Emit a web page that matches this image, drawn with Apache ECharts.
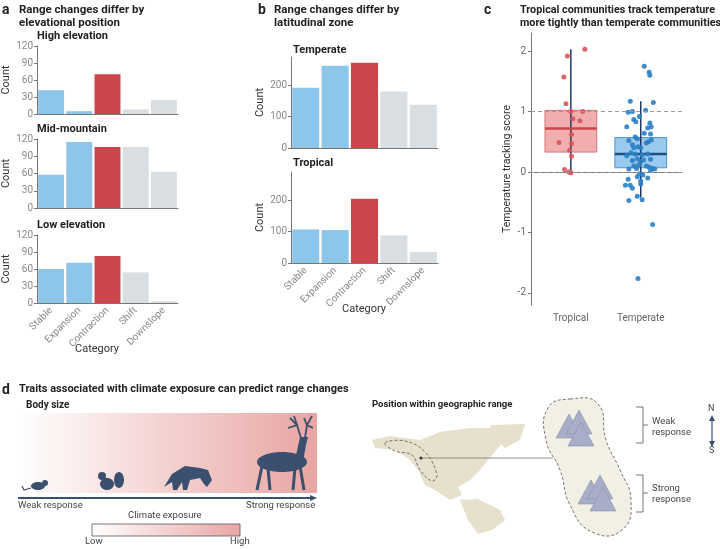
<!DOCTYPE html>
<html>
<head>
<meta charset="utf-8">
<script src="https://cdn.jsdelivr.net/npm/echarts@6/dist/echarts.min.js"></script>
<style>html,body{margin:0;padding:0;background:#fff}#chart{width:720px;height:549px}</style>
</head>
<body>
<div id="chart"></div>
<script>
// 数据
var categories = ['Stable', 'Expansion', 'Contraction', 'Shift', 'Downslope'];
var highElev = [42, 5, 70, 8, 25];
var midMountain = [58, 115, 106, 106, 63];
var lowElev = [60, 71, 83, 54, 3];
var temperateBars = [192, 262, 272, 180, 138];
var tropicalBars = [107, 105, 205, 88, 35];
var zones = ['Tropical', 'Temperate'];
// [min, q1, median, q3, max]
var tropicalBox = [0, 0.33, 0.72, 1.02, 2.03];
var temperateBox = [-0.42, 0.07, 0.30, 0.57, 1.17];
// [x jitter, score]
var tropicalPts = [[0.2,2.03],[-0.05,1.92],[-0.1,1.57],[-0.07,1.13],[0,1.0],[0.17,1.0],[0.03,0.88],[0.13,0.85],
  [0.01,0.62],[-0.17,0.49],[0.01,0.47],[-0.02,0.36],[0.01,0.26],[-0.09,0.04],[-0.03,0.0],[0,-0.01]];
var temperatePts = [[0.05,1.75],[0.12,1.65],[0.13,1.6],[-0.15,1.17],[0.18,1.15],[0.07,1.02],[-0.12,1.0],[-0.18,0.99],
  [-0.1,0.87],[-0.07,0.83],[-0.02,0.92],[0.13,0.81],[-0.2,0.75],[0.15,0.75],[0.1,0.73],[0.14,0.63],[0.05,0.64],
  [-0.17,0.52],[-0.05,0.55],[-0.08,0.58],[0.08,0.48],[0.11,0.5],[0.15,0.53],[-0.12,0.45],[-0.1,0.4],[-0.04,0.42],
  [0.0,0.4],[-0.14,0.32],[-0.08,0.3],[0.02,0.28],[0.1,0.3],[-0.2,0.27],[-0.05,0.22],[0.04,0.2],[0.14,0.21],
  [-0.12,0.19],[0.0,0.18],[-0.1,0.1],[-0.03,0.12],[0.08,0.1],[0.12,0.08],[0.17,0.06],[0.2,0.05],[-0.17,0.05],
  [-0.06,0.06],[0.14,0.02],[-0.02,-0.03],[0.03,-0.05],[-0.05,-0.08],[0.1,-0.1],[-0.18,-0.12],[0.0,-0.15],
  [-0.22,-0.22],[-0.15,-0.22],[0.0,-0.2],[-0.12,-0.27],[-0.05,-0.4],[-0.17,-0.47],[0.02,-0.46],[0.17,-0.87],[-0.04,-1.76]];

var blue = '#8ec6ea', red = '#c9474b', gray = '#d9dee3';
var barColors = [blue, blue, red, gray, gray];
var axisCol = '#777', labCol = '#888';

function barGrid(idx, left, top, width, height, max, ticks, showX) {
  return {
    grid: { left: left, top: top, width: width, height: height },
    x: { type: 'category', gridIndex: idx, data: categories,
      axisLine: { lineStyle: { color: axisCol } }, axisTick: { show: false },
      axisLabel: { show: showX, rotate: 45, color: labCol, fontSize: 10, margin: 6, fontFamily: 'Roboto' } },
    y: { type: 'value', gridIndex: idx, min: 0, max: max,
      name: 'Count', nameLocation: 'middle', nameGap: 22, nameRotate: 90,
      nameTextStyle: { color: '#333', fontSize: 11, fontFamily: 'Roboto' },
      axisLine: { show: true, lineStyle: { color: axisCol } },
      axisTick: { show: true, customValues: ticks, length: 3, lineStyle: { color: axisCol } },
      splitLine: { show: false }, axisLabel: { customValues: ticks, color: labCol, fontSize: 10, margin: 4, fontFamily: 'Roboto' } }
  };
}
var aTicks = [0, 30, 60, 90, 120], bTicks = [0, 100, 200];
var specs = [
  barGrid(0, 37, 46, 141, 68, 120, aTicks, false),
  barGrid(1, 37, 139, 141, 69, 120, aTicks, false),
  barGrid(2, 37, 235, 141, 68, 120, aTicks, true),
  barGrid(3, 291, 57, 147, 91, 290, bTicks, false),
  barGrid(4, 291, 172, 147, 91, 290, bTicks, true)
];
var barData = [highElev, midMountain, lowElev, temperateBars, tropicalBars];

var grids = specs.map(function (s) { return s.grid; });
var xAxes = specs.map(function (s) { return s.x; });
var yAxes = specs.map(function (s) { return s.y; });
var series = barData.map(function (d, i) {
  return { type: 'bar', xAxisIndex: i, yAxisIndex: i, barCategoryGap: '8%', silent: true,
    data: d.map(function (v, j) { return { value: v, itemStyle: { color: barColors[j] } }; }) };
});

// panel c
grids.push({ left: 531, top: 33, width: 151, height: 272 });
xAxes.push({ type: 'value', gridIndex: 5, min: 0.43, max: 2.59,
  axisLine: { lineStyle: { color: axisCol } }, splitLine: { show: false },
  axisTick: { customValues: [1, 2], length: 3, lineStyle: { color: axisCol } },
  axisLabel: { customValues: [1, 2], color: '#666', fontSize: 10, fontFamily: 'Roboto',
    formatter: function (v) { return zones[Math.round(v) - 1]; } } });
yAxes.push({ type: 'value', gridIndex: 5, min: -2.2, max: 2.3,
  name: 'Temperature tracking score', nameLocation: 'middle', nameGap: 18, nameRotate: 90,
  nameTextStyle: { color: '#333', fontSize: 10.5, fontFamily: 'Roboto' },
  axisLine: { show: true, lineStyle: { color: axisCol } }, splitLine: { show: false },
  axisTick: { customValues: [-2, -1, 0, 1, 2], length: 3, lineStyle: { color: axisCol } },
  axisLabel: { customValues: [-2, -1, 0, 1, 2], color: '#666', fontSize: 10, margin: 5, fontFamily: 'Roboto' } });
series.push({ type: 'line', xAxisIndex: 5, yAxisIndex: 5, silent: true, symbol: 'none', data: [],
  markLine: { symbol: 'none', silent: true, label: { show: false },
    lineStyle: { color: '#999', type: [4, 3], width: 1 }, data: [{ yAxis: 1 }, { yAxis: 0 }] } });
var boxes = [[1].concat(tropicalBox), [2].concat(temperateBox)];
var boxStyle = [{ fill: 'rgba(232,120,124,0.6)', stroke: '#d2777a', med: '#c9474b' },
                { fill: 'rgba(110,178,230,0.7)', stroke: '#4a95cf', med: '#1a4f88' }];
series.push({ type: 'custom', xAxisIndex: 5, yAxisIndex: 5, silent: true, data: boxes, z: 2,
  renderItem: function (params, api) {
    var i = params.dataIndex, s = boxStyle[i], x = api.value(0);
    var lo = api.coord([x, api.value(1)]), q1 = api.coord([x - 0.37, api.value(2)]),
        q3 = api.coord([x + 0.37, api.value(4)]), hi = api.coord([x, api.value(5)]);
    var mL = api.coord([x - 0.37, api.value(3)]), mR = api.coord([x + 0.37, api.value(3)]);
    return { type: 'group', children: [
      { type: 'rect', shape: { x: q1[0], y: q3[1], width: q3[0] - q1[0], height: q1[1] - q3[1] },
        style: { fill: s.fill, stroke: s.stroke, lineWidth: 1 } },
      { type: 'line', shape: { x1: lo[0], y1: lo[1], x2: hi[0], y2: hi[1] }, style: { stroke: '#1f3a6a', lineWidth: 1.5 } },
      { type: 'line', shape: { x1: mL[0], y1: mL[1], x2: mR[0], y2: mR[1] }, style: { stroke: s.med, lineWidth: 2.5 } }
    ] };
  } });
series.push({ type: 'scatter', xAxisIndex: 5, yAxisIndex: 5, silent: true, symbolSize: 5, z: 3,
  itemStyle: { color: '#d9555a', opacity: 0.9 }, data: tropicalPts.map(function (p) { return [1 + p[0], p[1]]; }) });
series.push({ type: 'scatter', xAxisIndex: 5, yAxisIndex: 5, silent: true, symbolSize: 5, z: 3,
  itemStyle: { color: '#2a7fc4', opacity: 0.9 }, data: temperatePts.map(function (p) { return [2 + p[0], p[1]]; }) });

// 文字与插图
var F = 'Roboto';
function txt(x, y, t, size, bold, color, lh) {
  var st = { text: t, font: (bold ? 'bold ' : '') + size + 'px ' + F, fill: color || '#222' };
  if (lh) st.lineHeight = lh;
  return { type: 'text', x: x, y: y, style: st };
}
var navy = '#3b4f6e', beige = '#e6e0cc', mtn = '#a8aec8';
function grad() {
  return new echarts.graphic.LinearGradient(0, 0, 1, 0, [{ offset: 0, color: '#fff' }, { offset: 1, color: '#e8a5a3' }]);
}
function poly(pts, fill, extra) {
  var st = { fill: fill };
  if (extra) for (var k in extra) st[k] = extra[k];
  return { type: 'polygon', shape: { points: pts }, style: st };
}
function pl(pts, w) { return { type: 'polyline', shape: { points: pts }, style: { stroke: navy, lineWidth: w, fill: null } }; }
function ln(x1, y1, x2, y2, c, w) { return { type: 'line', shape: { x1: x1, y1: y1, x2: x2, y2: y2 }, style: { stroke: c, lineWidth: w } }; }
function mount(x, y) { return poly([[x, y + 24], [x + 13, y], [x + 26, y + 24]], mtn, { stroke: '#8890b0', lineWidth: 0.6 }); }

var graphics = [
  txt(2, 3, 'a', 14, true), txt(19, 4, 'Range changes differ by\nelevational position', 11.5, true, '#222', 13),
  txt(37, 31, 'High elevation', 11, true), txt(37, 124, 'Mid-mountain', 11, true), txt(37, 220, 'Low elevation', 11, true),
  txt(75, 344, 'Category', 11, false, '#333'),
  txt(258, 3, 'b', 14, true), txt(274, 4, 'Range changes differ by\nlatitudinal zone', 11.5, true, '#222', 13),
  txt(293, 45, 'Temperate', 11, true), txt(293, 158, 'Tropical', 11, true),
  txt(342, 304, 'Category', 11, false, '#333'),
  txt(484, 3, 'c', 14, true), txt(520, 4, 'Tropical communities track temperature\nmore tightly than temperate communities', 10.8, true, '#222', 13),
  txt(2, 383, 'd', 14, true), txt(19, 384, 'Traits associated with climate exposure can predict range changes', 11, true),
  txt(26, 400, 'Body size', 10, true),
  { type: 'rect', shape: { x: 18, y: 413, width: 299, height: 80 }, style: { fill: grad() } },
  // mouse
  { type: 'ellipse', shape: { cx: 38, cy: 486, rx: 7, ry: 4 }, style: { fill: navy } },
  { type: 'circle', shape: { cx: 45, cy: 483, r: 3 }, style: { fill: navy } },
  pl([[31, 488], [24, 490], [22, 486]], 1.2),
  // squirrel
  { type: 'ellipse', shape: { cx: 107, cy: 484, rx: 7, ry: 6 }, style: { fill: navy } },
  { type: 'circle', shape: { cx: 102, cy: 476, r: 4 }, style: { fill: navy } },
  { type: 'ellipse', shape: { cx: 119, cy: 480, rx: 5, ry: 8 }, style: { fill: navy } },
  // fox
  poly([[164, 487], [172, 474], [185, 466], [200, 468], [208, 470], [212, 480], [207, 487], [204, 484], [200, 478], [190, 480], [187, 490], [183, 490], [182, 482], [177, 490], [173, 490], [172, 482]], navy),
  // deer
  { type: 'ellipse', shape: { cx: 282, cy: 462, rx: 25, ry: 10 }, style: { fill: navy } },
  poly([[295, 460], [300, 437], [308, 437], [306, 445], [303, 462]], navy),
  pl([[301, 438], [297, 425], [290, 418], [297, 425], [288, 428], [297, 425], [294, 416]], 1.8),
  pl([[305, 438], [307, 425], [312, 416], [307, 425], [313, 428], [307, 425], [304, 418]], 1.8),
  pl([[262, 466], [257, 490]], 3), pl([[268, 468], [270, 490]], 3),
  pl([[295, 468], [293, 490]], 3), pl([[300, 466], [304, 490]], 3),
  // arrow
  ln(18, 498, 312, 498, navy, 1.8), poly([[317, 498], [310, 495], [310, 501]], navy),
  txt(18, 501, 'Weak response', 9.5, false, '#444'), txt(246, 501, 'Strong response', 9.5, false, '#444'),
  txt(128, 511, 'Climate exposure', 9.5, false, '#444'),
  { type: 'rect', shape: { x: 92, y: 524, width: 148, height: 12 }, style: { fill: grad(), stroke: '#555', lineWidth: 0.8 } },
  txt(85, 537, 'Low', 9.5, false, '#444'), txt(230, 537, 'High', 9.5, false, '#444'),
  // map panel
  txt(372, 400, 'Position within geographic range', 9.5, true),
  poly([[372, 440], [390, 436], [420, 440], [440, 432], [470, 428], [498, 428], [505, 440], [492, 455], [480, 470], [470, 480], [458, 487], [462, 495], [450, 500], [438, 492], [425, 485], [418, 470], [410, 460], [395, 450], [375, 448]], beige),
  poly([[490, 425], [525, 424], [520, 440], [505, 448], [495, 438]], beige),
  poly([[460, 500], [478, 499], [500, 510], [505, 520], [492, 530], [478, 534], [468, 520]], beige),
  { type: 'polygon', shape: { smooth: 0.4, points: [[385, 443], [405, 441], [425, 452], [437, 475], [432, 481], [420, 470], [412, 455], [395, 451]] },
    style: { fill: null, stroke: '#555', lineWidth: 0.8, lineDash: [3, 2] } },
  { type: 'circle', shape: { cx: 421, cy: 458, r: 1.5 }, style: { fill: '#222' } },
  ln(421, 458, 553, 458, '#777', 0.8),
  { type: 'polygon', shape: { smooth: 0.5, points: [[570, 399], [598, 404], [606, 440], [620, 470], [631, 500], [622, 530], [592, 532], [570, 505], [560, 470], [546, 440], [548, 408]] },
    style: { fill: '#f2f0e4', stroke: '#555', lineWidth: 0.8, lineDash: [3, 2] } },
  mount(556, 414), mount(566, 410), mount(568, 422),
  mount(578, 480), mount(587, 475), mount(590, 487),
  { type: 'polyline', shape: { points: [[636, 407], [643, 407], [643, 443], [636, 443]] }, style: { stroke: '#555', lineWidth: 0.8, fill: null } },
  ln(643, 425, 648, 425, '#555', 0.8),
  txt(652, 416, 'Weak\nresponse', 9.5, false, '#444', 11),
  { type: 'polyline', shape: { points: [[636, 475], [643, 475], [643, 512], [636, 512]] }, style: { stroke: '#555', lineWidth: 0.8, fill: null } },
  ln(643, 493, 648, 493, '#555', 0.8),
  txt(652, 483, 'Strong\nresponse', 9.5, false, '#444', 11),
  txt(708, 404, 'N', 9, false, '#444'), txt(709, 446, 'S', 9, false, '#444'),
  ln(712, 418, 712, 444, navy, 1.2),
  poly([[712, 415], [709, 421], [715, 421]], navy),
  poly([[712, 447], [709, 441], [715, 441]], navy)
];

var option = {
  animation: false,
  grid: grids, xAxis: xAxes, yAxis: yAxes, series: series,
  graphic: graphics
};

var chart = echarts.init(document.getElementById('chart'));
chart.setOption(option);
</script>
</body>
</html>
